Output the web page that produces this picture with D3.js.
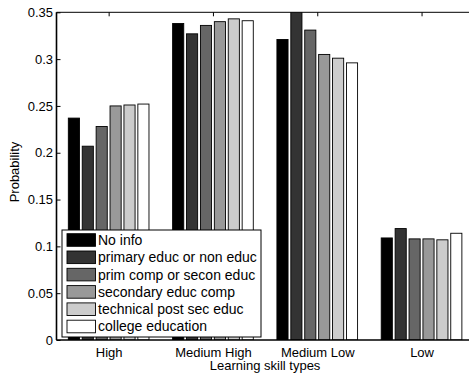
<!DOCTYPE html>
<html>
<head>
<meta charset="utf-8">
<script src="https://cdn.jsdelivr.net/npm/d3@7/dist/d3.min.js"></script>
<style>
  html, body { margin: 0; padding: 0; background: #fff; }
  svg { display: block; font-family: "Liberation Sans", Arial, Helvetica, sans-serif; }
</style>
</head>
<body>
<svg id="chart" width="469" height="377"></svg>
<script>
// Learning skill type probabilities by education level
const categories = ["High", "Medium High", "Medium Low", "Low"];
const seriesNames = [
  "No info",
  "primary educ or non educ",
  "prim comp or secon educ",
  "secondary educ comp",
  "technical post sec educ",
  "college education"
];
const seriesColors = ["#000000", "#333333", "#666666", "#999999", "#cccccc", "#ffffff"];
// one array per education level, values per category
const noInfo    = [0.237, 0.338, 0.321, 0.109];
const primary   = [0.207, 0.327, 0.352, 0.119];
const primComp  = [0.228, 0.336, 0.331, 0.108];
const secondary = [0.250, 0.340, 0.305, 0.108];
const technical = [0.251, 0.343, 0.301, 0.107];
const college   = [0.252, 0.341, 0.296, 0.114];
const seriesValues = [noInfo, primary, primComp, secondary, technical, college];
const yTicks = [0, 0.05, 0.1, 0.15, 0.2, 0.25, 0.3, 0.35];
const yTickLabels = ["0", "0.05", "0.1", "0.15", "0.2", "0.25", "0.3", "0.35"];

const svg = d3.select("#chart");
const plotLeft = 56.5, plotRight = 473.7, plotTop = 12.3, plotBottom = 340;

const x = d3.scaleLinear().domain([0.5, categories.length + 0.5]).range([plotLeft, plotRight]);
const y = d3.scaleLinear().domain([0, 0.35]).range([plotBottom, plotTop]);

const nS = seriesValues.length;
const groupWidth = 0.8;
const pitch = groupWidth / nS;
const barW = pitch * 0.8;

svg.append("defs").append("clipPath").attr("id", "plotclip")
  .append("rect").attr("x", plotLeft).attr("y", plotTop)
  .attr("width", plotRight - plotLeft).attr("height", plotBottom - plotTop);

// bars
const bars = svg.append("g").attr("clip-path", "url(#plotclip)");
seriesValues.forEach((vals, s) => {
  bars.selectAll(null).data(vals).enter().append("rect")
    .attr("x", (d, i) => x(i + 1 + (s - (nS - 1) / 2) * pitch - barW / 2))
    .attr("width", x(barW) - x(0))
    .attr("y", d => y(d))
    .attr("height", d => y(0) - y(d))
    .attr("fill", seriesColors[s])
    .attr("stroke", "#000")
    .attr("stroke-width", 0.9);
});

// axes box
const ax = svg.append("g").attr("stroke", "#000").attr("fill", "none");
ax.append("line").attr("x1", plotLeft).attr("x2", plotRight).attr("y1", plotTop).attr("y2", plotTop).attr("stroke-width", 1);
ax.append("line").attr("x1", plotLeft).attr("x2", plotRight).attr("y1", plotBottom).attr("y2", plotBottom).attr("stroke-width", 1.3);
ax.append("line").attr("x1", plotLeft).attr("x2", plotLeft).attr("y1", plotTop).attr("y2", plotBottom).attr("stroke-width", 1.6);

// y axis with inward ticks
const yAxis = d3.axisLeft(y).tickValues(yTicks)
  .tickFormat((d, i) => yTickLabels[i]).tickSizeInner(-4).tickSizeOuter(0).tickPadding(3.5);
const gy = svg.append("g").attr("transform", `translate(${plotLeft},0)`).call(yAxis);
gy.select(".domain").remove();
gy.selectAll("line").attr("stroke", "#000");
gy.selectAll("text").attr("font-size", 13).attr("fill", "#000")
  .attr("font-family", "Liberation Sans, Arial, sans-serif");

// x axis labels and top ticks
const xAxis = d3.axisBottom(x).tickValues(categories.map((c, i) => i + 1))
  .tickFormat((d, i) => categories[i]).tickSizeInner(0).tickSizeOuter(0).tickPadding(7.5);
const gx = svg.append("g").attr("transform", `translate(0,${plotBottom})`).call(xAxis);
gx.select(".domain").remove();
gx.selectAll("text").attr("font-size", 13).attr("fill", "#000")
  .attr("font-family", "Liberation Sans, Arial, sans-serif");

const xTop = d3.axisTop(x).tickValues(categories.map((c, i) => i + 1))
  .tickFormat("").tickSizeInner(-4).tickSizeOuter(0);
const gxt = svg.append("g").attr("transform", `translate(0,${plotTop})`).call(xTop);
gxt.select(".domain").remove();
gxt.selectAll("line").attr("stroke", "#000");

// axis titles
svg.append("text").attr("x", x(2.5)).attr("y", 369.5)
  .attr("text-anchor", "middle").attr("font-size", 13).text("Learning skill types");
svg.append("text").attr("transform", "translate(19,172) rotate(-90)")
  .attr("text-anchor", "middle").attr("font-size", 13).text("Probability");

// legend
const lg = svg.append("g");
lg.append("rect").attr("x", 62).attr("y", 230).attr("width", 199).attr("height", 107)
  .attr("fill", "#fff").attr("stroke", "#000").attr("stroke-width", 1);
const rowH = 17.3;
seriesNames.forEach((name, i) => {
  const cy = 240 + i * rowH;
  lg.append("rect").attr("x", 67).attr("y", cy - 6.3).attr("width", 28.5).attr("height", 12.6)
    .attr("fill", seriesColors[i]).attr("stroke", "#000").attr("stroke-width", 0.9);
  lg.append("text").attr("x", 98).attr("y", cy).attr("dy", "0.35em")
    .attr("font-size", 14).text(name);
});
</script>
</body>
</html>
